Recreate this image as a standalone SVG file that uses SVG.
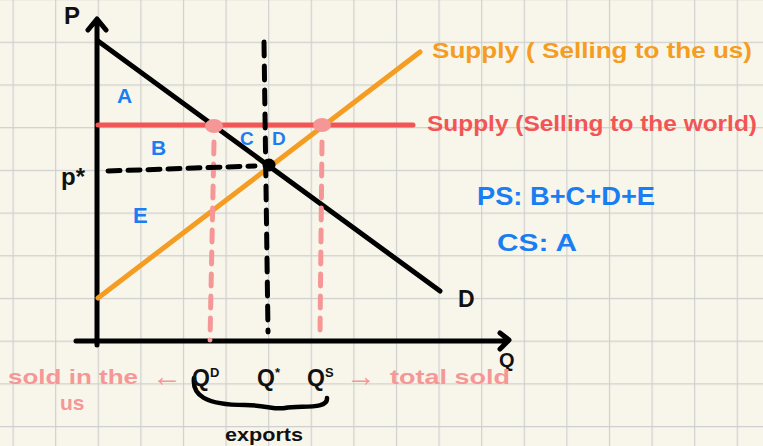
<svg xmlns="http://www.w3.org/2000/svg" width="763" height="446" viewBox="0 0 763 446">
<defs>
<style>
.hand{font-family:"Liberation Sans",Arial,sans-serif;font-weight:bold}
.blk{fill:#111}
.blue{fill:#1a7ef2}
.orange{fill:#f59c22}
.red{fill:#f25555}
.pink{fill:#f69797}
.ax{stroke:#000;stroke-width:5;fill:none;stroke-linecap:round;stroke-linejoin:round}
</style>
<pattern id="g" x="12.5" y="41.7" width="42.6" height="42.7" patternUnits="userSpaceOnUse">
<path d="M0 0V42.7M0 0H42.6" stroke="#cfcfcf" stroke-width="2.4" fill="none"/>
</pattern>
</defs>
<rect width="763" height="446" fill="#f8f6ea"/>
<rect width="763" height="446" fill="url(#g)"/>

<g id="axes">
<path class="ax" d="M97 345V20M88 30L97 19L106 30"/>
<path class="ax" d="M76 341H508M500 333L509 340L500 349"/>
<text class="hand blk" x="64" y="24" font-size="24">P</text>
<text class="hand blk" x="499" y="367" font-size="20">Q</text>
</g>

<g id="connectors">
<line id="world-supply" x1="98" y1="125" x2="413" y2="125" stroke="#f25555" stroke-width="5" stroke-linecap="round"/>
<line id="supply" x1="98" y1="298" x2="420" y2="52" stroke="#f59c22" stroke-width="5" stroke-linecap="round"/>
<line id="demand" x1="98" y1="41" x2="440" y2="291" stroke="#000" stroke-width="5" stroke-linecap="round"/>
<path d="M214 142L210 340" stroke="#f69797" stroke-width="5" stroke-dasharray="12 10" stroke-linecap="round" fill="none"/>
<path d="M322 142L320 335" stroke="#f69797" stroke-width="5" stroke-dasharray="12 10" stroke-linecap="round" fill="none"/>
<path d="M264 42L268 332" stroke="#000" stroke-width="5" stroke-dasharray="14 10" stroke-linecap="round" fill="none"/>
<path d="M108 171L255 166" stroke="#000" stroke-width="5" stroke-dasharray="12 8" stroke-linecap="round" fill="none"/>
<ellipse cx="214" cy="126" rx="9" ry="7" fill="#f69797"/>
<ellipse cx="322" cy="125" rx="9" ry="7" fill="#f69797"/>
<circle cx="269" cy="165" r="6.5" fill="#000"/>
<path d="M194 378C192 395 205 405 245 405C265 405 275 410 285 408C300 405 328 410 327 398" stroke="#000" stroke-width="4.5" fill="none" stroke-linecap="round"/>
</g>

<g id="area-labels">
<text class="hand blue" x="117" y="103" font-size="21">A</text>
<text class="hand blue" x="151" y="155" font-size="21">B</text>
<text class="hand blue" x="240" y="145" font-size="19">C</text>
<text class="hand blue" x="272" y="145" font-size="19">D</text>
<text class="hand blue" x="133" y="223" font-size="22">E</text>
<text class="hand blk" x="61" y="185" font-size="24">p*</text>
<text class="hand blk" x="458" y="307" font-size="23">D</text>
</g>

<g id="legend">
<text class="hand orange" x="432" y="58" font-size="22" textLength="320" lengthAdjust="spacingAndGlyphs">Supply ( Selling to the us)</text>
<text class="hand red" x="427" y="131" font-size="22" textLength="330" lengthAdjust="spacingAndGlyphs">Supply (Selling to the world)</text>
</g>

<g id="surplus">
<text class="hand blue" x="477" y="205" font-size="26" textLength="178" lengthAdjust="spacingAndGlyphs">PS: B+C+D+E</text>
<text class="hand blue" x="497" y="251" font-size="24" textLength="80" lengthAdjust="spacingAndGlyphs">CS: A</text>
</g>

<g id="quantities">
<text class="hand pink" x="8" y="384" font-size="21" textLength="130" lengthAdjust="spacingAndGlyphs">sold in the</text>
<text class="hand pink" x="60" y="410" font-size="21">us</text>
<text class="hand pink" x="152" y="386" font-size="30">←</text>
<text class="hand blk" x="192" y="386" font-size="23">Q<tspan font-size="13" dy="-9">D</tspan></text>
<text class="hand blk" x="257" y="386" font-size="23">Q<tspan font-size="13" dy="-9">*</tspan></text>
<text class="hand blk" x="307" y="386" font-size="23">Q<tspan font-size="13" dy="-9">S</tspan></text>
<text class="hand pink" x="346" y="386" font-size="30">→</text>
<text class="hand pink" x="390" y="384" font-size="21" textLength="120" lengthAdjust="spacingAndGlyphs">total sold</text>
<text class="hand blk" x="225" y="441" font-size="19" textLength="78" lengthAdjust="spacingAndGlyphs">exports</text>
</g>
</svg>
